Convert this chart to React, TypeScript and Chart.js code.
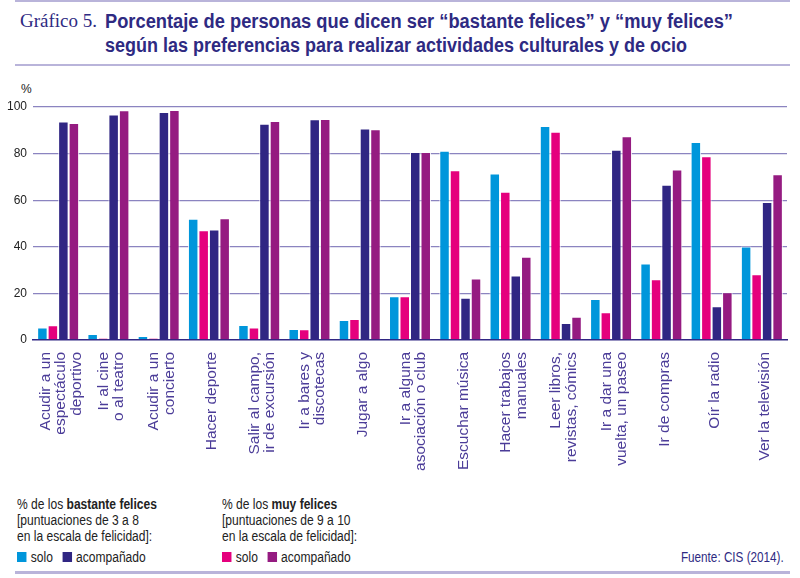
import { useEffect, useLayoutEffect, useRef } from 'react';
import type { CSSProperties, ReactNode } from 'react';
import { Chart, registerables } from 'chart.js';

Chart.register(...registerables);

const categories: string[][] = [
    ['Acudir a un', 'espectáculo', 'deportivo'],
    ['Ir al cine', 'o al teatro'],
    ['Acudir a un', 'concierto'],
    ['Hacer deporte'],
    ['Salir al campo,', 'ir de excursión'],
    ['Ir a bares y', 'discotecas'],
    ['Jugar a algo'],
    ['Ir a alguna', 'asociación o club'],
    ['Escuchar música'],
    ['Hacer trabajos', 'manuales'],
    ['Leer libros,', 'revistas, cómics'],
    ['Ir a dar una', 'vuelta, un paseo'],
    ['Ir de compras'],
    ['Oír la radio'],
    ['Ver la televisión'],
];

// % de los bastante felices
const soloBastante = [5.4, 2.6, 1.7, 52.0, 6.4, 4.7, 8.6, 18.8, 81.2, 71.5, 91.8, 17.6, 32.8, 85.0, 40.1];
const acompBastante = [93.8, 96.8, 97.9, 47.4, 92.8, 94.7, 90.8, 80.7, 18.1, 27.7, 7.3, 81.7, 66.6, 14.5, 59.2];
// % de los muy felices
const soloMuy = [6.3, 0.9, 0.9, 47.1, 5.4, 4.6, 9.0, 18.8, 72.9, 63.6, 89.4, 11.9, 26.1, 78.9, 28.2];
const acompMuy = [93.1, 98.6, 98.7, 52.3, 94.0, 94.8, 90.4, 80.7, 26.4, 35.7, 10.0, 87.4, 73.2, 20.5, 71.1];

const yTicks = [0, 20, 40, 60, 80, 100];

const CYAN = '#0096db';
const PINK = '#e5007d';
const NAVY = '#302683';
const PURPLE = '#951b81';
const TEXT_NAVY = '#2e2a82';
const LABEL = '#4b3c98';
const RULE = '#b9b4da';

const sans = '"Liberation Sans", Arial, sans-serif';

const xLabelsPlugin = {
    id: 'xLabels',
    afterDraw(chart: Chart) {
        const xs = chart.scales.x;
        const ctx = chart.ctx;
        const lh = 15.5;
        ctx.save();
        ctx.fillStyle = LABEL;
        ctx.font = '15.5px "Liberation Sans", Arial, sans-serif';
        ctx.textAlign = 'right';
        ctx.textBaseline = 'middle';
        categories.forEach((lines, i) => {
            const x = xs.getPixelForTick(i);
            ctx.save();
            ctx.translate(x + 3, xs.top + 12);
            ctx.rotate(-Math.PI / 2);
            lines.forEach((line, j) => {
                ctx.fillText(line, 0, (j - (lines.length - 1) / 2) * lh);
            });
            ctx.restore();
        });
        ctx.restore();
    },
};

// squeezes a line of text horizontally to a given width (condensed look)
const Fit = ({ width, origin = 'left', children }: { width: number; origin?: string; children: ReactNode }) => {
    const ref = useRef<HTMLSpanElement | null>(null);
    useLayoutEffect(() => {
        const el = ref.current;
        if (!el) return;
        el.style.transform = 'none';
        const w = el.scrollWidth;
        if (w > 0) el.style.transform = `scaleX(${width / w})`;
    });
    return (
        <span
            ref={ref}
            style={{ display: 'inline-block', whiteSpace: 'nowrap', transformOrigin: origin }}
        >
            {children}
        </span>
    );
};

const Swatch = ({ color, label }: { color: string; label: string }) => (
    <span style={{ display: 'inline-flex', alignItems: 'center', marginRight: 11 }}>
        <span style={{ width: 11, height: 10, background: color, display: 'inline-block', marginRight: 5 }} />
        {label}
    </span>
);

const legendText: CSSProperties = {
    position: 'absolute',
    top: 496,
    fontFamily: sans,
    fontSize: 14,
    lineHeight: '16px',
    color: '#222',
    whiteSpace: 'nowrap',
    transform: 'scaleX(0.86)',
    transformOrigin: 'left top',
};

export default function App() {
    const canvasRef = useRef<HTMLCanvasElement | null>(null);
    const chartRef = useRef<Chart | null>(null);

    useEffect(() => {
        document.body.style.margin = '0';
        if (!canvasRef.current) return;
        if (chartRef.current) chartRef.current.destroy();

        const mk = (label: string, data: number[], color: string) => ({
            label,
            data,
            backgroundColor: color,
            borderColor: 'rgba(255,255,255,0.85)',
            borderWidth: 1,
            borderSkipped: 'bottom' as const,
            categoryPercentage: 0.835,
            barPercentage: 1,
        });

        chartRef.current = new Chart(canvasRef.current, {
            type: 'bar',
            data: {
                labels: categories.map((c) => c.join(' ')),
                datasets: [
                    mk('bastante felices solo', soloBastante, CYAN),
                    mk('muy felices solo', soloMuy, PINK),
                    mk('bastante felices acompañado', acompBastante, NAVY),
                    mk('muy felices acompañado', acompMuy, PURPLE),
                ],
            },
            options: {
                animation: false,
                responsive: false,
                maintainAspectRatio: false,
                layout: { padding: { top: 27, right: 13, left: 0, bottom: 0 } },
                plugins: {
                    legend: { display: false },
                    tooltip: { enabled: false },
                },
                scales: {
                    x: {
                        grid: { display: false },
                        border: { display: true, color: NAVY, width: 1.5 },
                        ticks: { display: false },
                        afterFit: (scale) => {
                            scale.height = 140;
                        },
                    },
                    y: {
                        min: 0,
                        max: 100,
                        afterBuildTicks: (scale) => {
                            scale.ticks = yTicks.map((v) => ({ value: v }));
                        },
                        grid: {
                            drawTicks: false,
                            color: (c) => (c.tick.value === 0 ? 'transparent' : '#8b84c0'),
                            lineWidth: 1.3,
                        },
                        border: { display: false },
                        ticks: {
                            padding: 6,
                            color: '#222',
                            font: { family: sans, size: 12 },
                        },
                        afterFit: (scale) => {
                            scale.width = 33;
                        },
                    },
                },
            },
            plugins: [xLabelsPlugin],
        });

        return () => {
            if (chartRef.current) {
                chartRef.current.destroy();
                chartRef.current = null;
            }
        };
    }, []);

    return (
        <div style={{ position: 'relative', width: 800, height: 578, background: '#fff', overflow: 'hidden' }}>
            <div style={{ position: 'absolute', left: 15, top: 0, width: 775, height: 2, background: RULE }} />
            <div
                style={{
                    position: 'absolute',
                    left: 20,
                    top: 9,
                    fontFamily: '"Liberation Serif", serif',
                    fontSize: 19.5,
                    lineHeight: '24px',
                    color: TEXT_NAVY,
                }}
            >
                <Fit width={77}>Gráfico 5.</Fit>
            </div>
            <div
                style={{
                    position: 'absolute',
                    left: 105,
                    top: 9,
                    fontFamily: sans,
                    fontWeight: 'bold',
                    fontSize: 20,
                    lineHeight: '24px',
                    color: TEXT_NAVY,
                }}
            >
                <Fit width={628}>Porcentaje de personas que dicen ser “bastante felices” y “muy felices”</Fit>
                <br />
                <Fit width={582}>según las preferencias para realizar actividades culturales y de ocio</Fit>
            </div>
            <div style={{ position: 'absolute', left: 15, top: 64, width: 775, height: 2, background: RULE }} />
            <div
                style={{
                    position: 'absolute',
                    left: 21,
                    top: 82,
                    fontFamily: sans,
                    fontSize: 12,
                    color: '#222',
                }}
            >
                %
            </div>
            <canvas
                ref={canvasRef}
                width={800}
                height={400}
                style={{ position: 'absolute', left: 0, top: 80, width: 800, height: 400 }}
            />
            <div style={{ ...legendText, left: 17 }}>
                % de los <b>bastante felices</b>
                <br />
                [puntuaciones de 3 a 8
                <br />
                en la escala de felicidad]:
                <div style={{ marginTop: 5 }}>
                    <Swatch color={CYAN} label="solo" />
                    <Swatch color={NAVY} label="acompañado" />
                </div>
            </div>
            <div style={{ ...legendText, left: 222 }}>
                % de los <b>muy felices</b>
                <br />
                [puntuaciones de 9 a 10
                <br />
                en la escala de felicidad]:
                <div style={{ marginTop: 5 }}>
                    <Swatch color={PINK} label="solo" />
                    <Swatch color={PURPLE} label="acompañado" />
                </div>
            </div>
            <div
                style={{
                    position: 'absolute',
                    right: 16,
                    top: 548,
                    fontFamily: sans,
                    fontSize: 15,
                    color: TEXT_NAVY,
                }}
            >
                <Fit width={103} origin="right">Fuente: CIS (2014).</Fit>
            </div>
            <div style={{ position: 'absolute', left: 15, top: 571, width: 775, height: 3, background: RULE }} />
        </div>
    );
}
